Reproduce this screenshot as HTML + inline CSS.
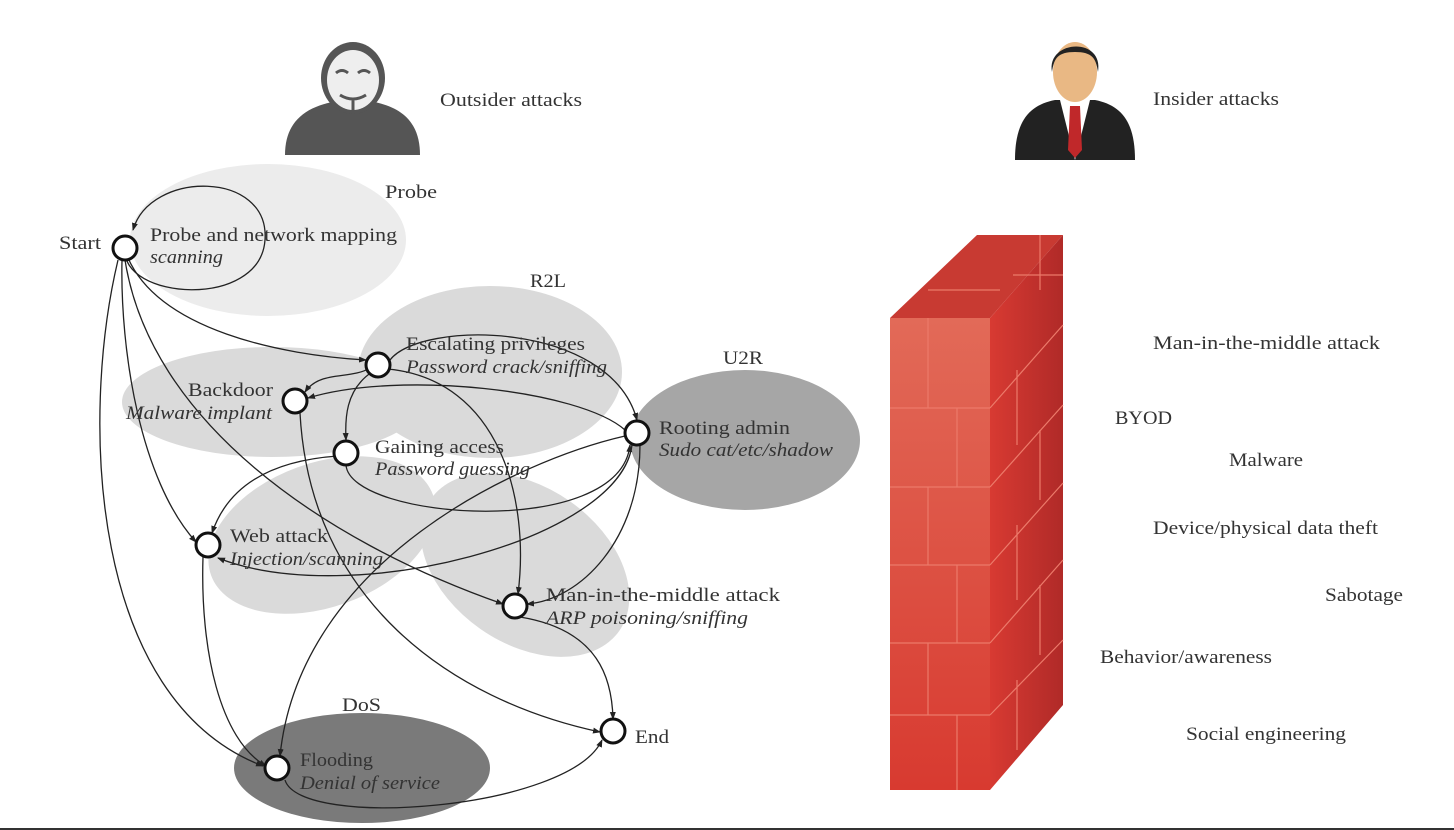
<!DOCTYPE html>
<html><head><meta charset="utf-8"><style>
html,body{margin:0;padding:0;background:#fff;}
svg{display:block;}
text{font-family:"Liberation Serif",serif;font-size:19px;fill:#333;}
.i{font-style:italic;}
</style></head><body>
<svg width="1454" height="830" viewBox="0 0 1454 830" xmlns="http://www.w3.org/2000/svg">
<defs>
<marker id="a" markerWidth="8" markerHeight="8" refX="7" refY="4" orient="auto" markerUnits="userSpaceOnUse">
<path d="M0,1 L8,4 L0,7 z" fill="#222"/></marker>
<linearGradient id="front" x1="0" y1="0" x2="0" y2="1"><stop offset="0" stop-color="#e26a58"/><stop offset="1" stop-color="#d83a30"/></linearGradient>
<linearGradient id="side" x1="0" y1="0" x2="1" y2="0"><stop offset="0" stop-color="#d83a32"/><stop offset="1" stop-color="#b02a28"/></linearGradient>
</defs>
<rect x="0" y="828" width="1454" height="2" fill="#333"/>

<ellipse cx="268" cy="240" rx="138" ry="76" fill="#ececec"/>
<ellipse cx="272" cy="402" rx="150" ry="55" fill="#dadada"/>
<ellipse cx="490" cy="372" rx="132" ry="86" fill="#dadada"/>
<ellipse cx="322" cy="535" rx="118" ry="72" transform="rotate(-20 322 535)" fill="#dadada"/>
<ellipse cx="525" cy="565" rx="115" ry="78" transform="rotate(35 525 565)" fill="#dadada"/>
<ellipse cx="745" cy="440" rx="115" ry="70" fill="#a6a6a6"/>
<ellipse cx="362" cy="768" rx="128" ry="55" fill="#7a7a7a"/>

<g fill="none" stroke="#222" stroke-width="1.3" marker-end="url(#a)">
<path d="M125,248 C120,300 260,310 265,240 C270,170 150,170 133,230"/>
<path d="M128,258 C160,330 280,355 366,360"/>
<path d="M122,260 C120,350 140,480 196,542"/>
<path d="M118,260 C80,420 90,700 263,766"/>
<path d="M125,260 C150,420 320,540 503,604"/>
<path d="M390,360 C420,320 610,320 637,420"/>
<path d="M370,368 C350,380 320,370 305,392"/>
<path d="M372,372 C345,390 345,420 346,440"/>
<path d="M388,369 C500,380 530,500 518,594"/>
<path d="M625,430 C580,390 400,370 308,398"/>
<path d="M300,413 C310,600 450,700 600,732"/>
<path d="M346,465 C350,520 620,540 630,445"/>
<path d="M338,456 C280,460 230,480 212,533"/>
<path d="M625,436 C520,460 300,560 280,756"/>
<path d="M632,445 C620,540 350,610 218,558"/>
<path d="M640,445 C640,540 580,600 527,604"/>
<path d="M203,557 C200,650 220,740 266,766"/>
<path d="M520,617 C600,630 612,680 613,719"/>
<path d="M285,780 C300,830 570,810 602,740"/>
</g>

<g fill="#fff" stroke="#111" stroke-width="3">
<circle cx="125" cy="248" r="12"/>
<circle cx="378" cy="365" r="12"/>
<circle cx="295" cy="401" r="12"/>
<circle cx="346" cy="453" r="12"/>
<circle cx="637" cy="433" r="12"/>
<circle cx="208" cy="545" r="12"/>
<circle cx="515" cy="606" r="12"/>
<circle cx="613" cy="731" r="12"/>
<circle cx="277" cy="768" r="12"/>
</g>

<g>
<text x="385" y="198" textLength="52" lengthAdjust="spacingAndGlyphs">Probe</text>
<text x="59" y="249" textLength="42" lengthAdjust="spacingAndGlyphs">Start</text>
<text x="150" y="241" textLength="247" lengthAdjust="spacingAndGlyphs">Probe and network mapping</text>
<text x="150" y="263" class="i" textLength="73" lengthAdjust="spacingAndGlyphs">scanning</text>
<text x="530" y="287" textLength="36" lengthAdjust="spacingAndGlyphs">R2L</text>
<text x="406" y="350" textLength="179" lengthAdjust="spacingAndGlyphs">Escalating privileges</text>
<text x="406" y="373" class="i" textLength="201" lengthAdjust="spacingAndGlyphs">Password crack/sniffing</text>
<text x="188" y="396" textLength="85" lengthAdjust="spacingAndGlyphs">Backdoor</text>
<text x="126" y="419" class="i" textLength="146" lengthAdjust="spacingAndGlyphs">Malware implant</text>
<text x="375" y="453" textLength="129" lengthAdjust="spacingAndGlyphs">Gaining access</text>
<text x="375" y="475" class="i" textLength="155" lengthAdjust="spacingAndGlyphs">Password guessing</text>
<text x="723" y="364" textLength="40" lengthAdjust="spacingAndGlyphs">U2R</text>
<text x="659" y="434" textLength="131" lengthAdjust="spacingAndGlyphs">Rooting admin</text>
<text x="659" y="456" class="i" textLength="174" lengthAdjust="spacingAndGlyphs">Sudo cat/etc/shadow</text>
<text x="230" y="542" textLength="98" lengthAdjust="spacingAndGlyphs">Web attack</text>
<text x="230" y="565" class="i" textLength="153" lengthAdjust="spacingAndGlyphs">Injection/scanning</text>
<text x="546" y="601" textLength="234" lengthAdjust="spacingAndGlyphs">Man-in-the-middle attack</text>
<text x="546" y="624" class="i" textLength="202" lengthAdjust="spacingAndGlyphs">ARP poisoning/sniffing</text>
<text x="635" y="743" textLength="34" lengthAdjust="spacingAndGlyphs">End</text>
<text x="342" y="711" textLength="39" lengthAdjust="spacingAndGlyphs">DoS</text>
<text x="300" y="766" textLength="73" lengthAdjust="spacingAndGlyphs">Flooding</text>
<text x="300" y="789" class="i" textLength="140" lengthAdjust="spacingAndGlyphs">Denial of service</text>

<text x="440" y="106" textLength="142" lengthAdjust="spacingAndGlyphs">Outsider attacks</text>
<text x="1153" y="105" textLength="126" lengthAdjust="spacingAndGlyphs">Insider attacks</text>
<text x="1153" y="349" textLength="227" lengthAdjust="spacingAndGlyphs">Man-in-the-middle attack</text>
<text x="1115" y="424" textLength="57" lengthAdjust="spacingAndGlyphs">BYOD</text>
<text x="1229" y="466" textLength="74" lengthAdjust="spacingAndGlyphs">Malware</text>
<text x="1153" y="534" textLength="225" lengthAdjust="spacingAndGlyphs">Device/physical data theft</text>
<text x="1325" y="601" textLength="78" lengthAdjust="spacingAndGlyphs">Sabotage</text>
<text x="1100" y="663" textLength="172" lengthAdjust="spacingAndGlyphs">Behavior/awareness</text>
<text x="1186" y="740" textLength="160" lengthAdjust="spacingAndGlyphs">Social engineering</text>
</g>

<g fill="#555">
<path d="M285,155 C285,118 310,104 345,100 L362,100 C397,104 420,118 420,155 Z"/>
<ellipse cx="353" cy="78" rx="32" ry="36" fill="#555"/>
<ellipse cx="353" cy="80" rx="26" ry="30" fill="#eee"/>
<path d="M336,73 q6,-5 12,0 M358,73 q6,-5 12,0 M340,95 q13,8 26,0 M353,98 v14" stroke="#555" stroke-width="3" fill="none"/>
</g>

<path d="M1015,160 C1015,120 1030,105 1055,100 L1095,100 C1120,105 1135,120 1135,160 Z" fill="#222"/>
<path d="M1060,100 L1075,160 L1090,100 Z" fill="#fff"/>
<path d="M1070,106 L1080,106 L1082,150 L1075,158 L1068,150 Z" fill="#c0282a"/>
<ellipse cx="1075" cy="72" rx="22" ry="30" fill="#e9b884"/>
<path d="M1052,72 C1046,40 1104,36 1098,72 C1096,58 1092,52 1075,52 C1058,52 1054,58 1052,72 Z" fill="#222"/>

<polygon points="890,318 977,235 1063,235 990,318" fill="#c83a32"/>
<polygon points="990,318 1063,235 1063,705 990,790" fill="url(#side)"/>
<rect x="890" y="318" width="100" height="472" fill="url(#front)"/>
<g stroke="#ec7a6a" stroke-width="1.2" fill="none">
<path d="M890,408 H990 M890,487 H990 M890,565 H990 M890,643 H990 M890,715 H990"/>
<path d="M928,318 V408 M957,408 V487 M928,487 V565 M957,565 V643 M928,643 V715 M957,715 V790"/>
<path d="M990,408 L1063,325 M990,487 L1063,405 M990,565 L1063,483 M990,643 L1063,560 M990,715 L1063,640"/>
<path d="M1017,370 V445 M1040,430 V500 M1017,525 V600 M1040,585 V655 M1017,680 V750"/>
<path d="M928,290 L1000,290 M1013,275 L1063,275 M1040,235 V290"/>
</g>
</svg>
</body></html>
